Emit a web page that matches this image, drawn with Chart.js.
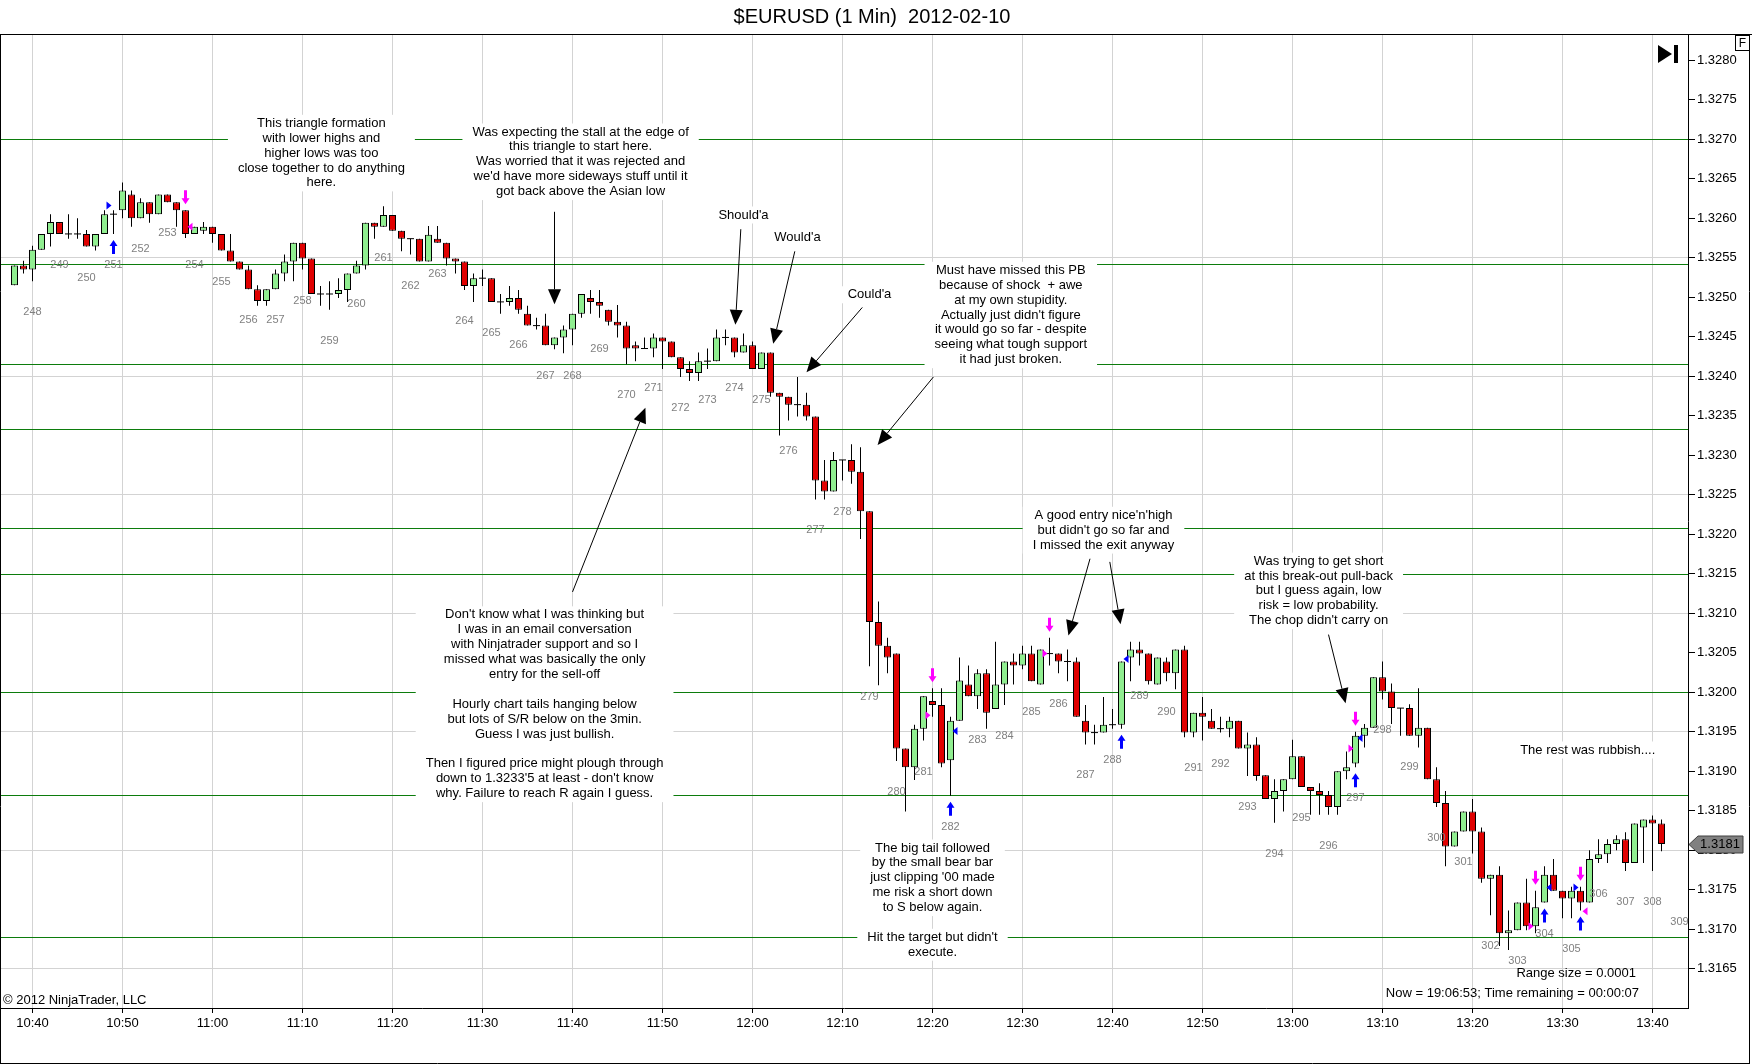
<!DOCTYPE html>
<html>
<head>
<meta charset="utf-8">
<title>$EURUSD (1 Min) 2012-02-10</title>
<script src="https://cdn.jsdelivr.net/npm/chart.js@4.4.1/dist/chart.umd.min.js"></script>
<style>
  html, body { margin: 0; padding: 0; background: #fff; overflow: hidden; }
  canvas { display: block; }
</style>
</head>
<body>
<canvas id="chart" width="1752" height="1064"></canvas>
<script>
// one-minute bars, 10:38 - 13:41
const times = [
  "10:38","10:39","10:40","10:41","10:42","10:43","10:44","10:45","10:46","10:47",
  "10:48","10:49","10:50","10:51","10:52","10:53","10:54","10:55","10:56","10:57",
  "10:58","10:59","11:00","11:01","11:02","11:03","11:04","11:05","11:06","11:07",
  "11:08","11:09","11:10","11:11","11:12","11:13","11:14","11:15","11:16","11:17",
  "11:18","11:19","11:20","11:21","11:22","11:23","11:24","11:25","11:26","11:27",
  "11:28","11:29","11:30","11:31","11:32","11:33","11:34","11:35","11:36","11:37",
  "11:38","11:39","11:40","11:41","11:42","11:43","11:44","11:45","11:46","11:47",
  "11:48","11:49","11:50","11:51","11:52","11:53","11:54","11:55","11:56","11:57",
  "11:58","11:59","12:00","12:01","12:02","12:03","12:04","12:05","12:06","12:07",
  "12:08","12:09","12:10","12:11","12:12","12:13","12:14","12:15","12:16","12:17",
  "12:18","12:19","12:20","12:21","12:22","12:23","12:24","12:25","12:26","12:27",
  "12:28","12:29","12:30","12:31","12:32","12:33","12:34","12:35","12:36","12:37",
  "12:38","12:39","12:40","12:41","12:42","12:43","12:44","12:45","12:46","12:47",
  "12:48","12:49","12:50","12:51","12:52","12:53","12:54","12:55","12:56","12:57",
  "12:58","12:59","13:00","13:01","13:02","13:03","13:04","13:05","13:06","13:07",
  "13:08","13:09","13:10","13:11","13:12","13:13","13:14","13:15","13:16","13:17",
  "13:18","13:19","13:20","13:21","13:22","13:23","13:24","13:25","13:26","13:27",
  "13:28","13:29","13:30","13:31","13:32","13:33","13:34","13:35","13:36","13:37",
  "13:38","13:39","13:40","13:41"
];

const opens = [
  1.32515,1.32540,1.32535,1.32560,1.32580,1.32595,1.32580,1.32580,1.32580,1.32564,
  1.32580,1.32605,1.32610,1.32630,1.32600,1.32620,1.32605,1.32630,1.32620,1.32610,
  1.32580,1.32584,1.32589,1.32580,1.32559,1.32545,1.32535,1.32510,1.32495,1.32510,
  1.32530,1.32545,1.32569,1.32549,1.32504,1.32504,1.32504,1.32509,1.32530,1.32540,
  1.32594,1.32589,1.32604,1.32584,1.32574,1.32574,1.32545,1.32574,1.32569,1.32549,
  1.32545,1.32514,1.32524,1.32524,1.32494,1.32494,1.32499,1.32479,1.32464,1.32464,
  1.32439,1.32449,1.32459,1.32479,1.32499,1.32494,1.32484,1.32469,1.32464,1.32439,
  1.32435,1.32435,1.32449,1.32444,1.32424,1.32409,1.32404,1.32419,1.32419,1.32449,
  1.32449,1.32430,1.32439,1.32409,1.32430,1.32379,1.32374,1.32364,1.32364,1.32349,
  1.32268,1.32254,1.32294,1.32294,1.32279,1.32229,1.32089,1.32059,1.32049,1.31929,
  1.31905,1.31954,1.31989,1.31984,1.31914,1.31964,1.32010,1.31995,1.32024,1.31979,
  1.32010,1.32039,1.32034,1.32049,1.32010,1.32049,1.32049,1.32039,1.32039,1.31964,
  1.31949,1.31949,1.31959,1.31959,1.32044,1.32054,1.32049,1.32010,1.32039,1.32024,
  1.32054,1.31949,1.31974,1.31964,1.31954,1.31954,1.31964,1.31929,1.31934,1.31895,
  1.31865,1.31875,1.31890,1.31919,1.31880,1.31875,1.31870,1.31855,1.31900,1.31910,
  1.31945,1.31955,1.32019,1.32001,1.31980,1.31980,1.31945,1.31955,1.31890,1.31860,
  1.31805,1.31824,1.31849,1.31824,1.31764,1.31769,1.31695,1.31699,1.31734,1.31704,
  1.31734,1.31769,1.31749,1.31739,1.31749,1.31734,1.31789,1.31795,1.31808,1.31814,
  1.31784,1.31829,1.31839,1.31834
];
const highs = [
  1.32540,1.32546,1.32565,1.32580,1.32605,1.32595,1.32605,1.32600,1.32585,1.32580,
  1.32610,1.32610,1.32645,1.32635,1.32625,1.32620,1.32630,1.32630,1.32620,1.32610,
  1.32589,1.32595,1.32589,1.32580,1.32580,1.32545,1.32540,1.32515,1.32510,1.32535,
  1.32554,1.32569,1.32569,1.32549,1.32514,1.32520,1.32524,1.32530,1.32546,1.32594,
  1.32594,1.32615,1.32604,1.32584,1.32574,1.32574,1.32590,1.32590,1.32569,1.32549,
  1.32545,1.32530,1.32535,1.32524,1.32504,1.32514,1.32509,1.32489,1.32474,1.32479,
  1.32449,1.32464,1.32479,1.32504,1.32509,1.32509,1.32484,1.32490,1.32469,1.32444,
  1.32449,1.32454,1.32449,1.32444,1.32424,1.32419,1.32430,1.32435,1.32459,1.32459,
  1.32449,1.32454,1.32444,1.32430,1.32430,1.32379,1.32374,1.32399,1.32379,1.32349,
  1.32294,1.32304,1.32294,1.32314,1.32310,1.32229,1.32115,1.32069,1.32049,1.31929,
  1.31959,1.31995,1.32005,1.32005,1.31969,1.32044,1.32034,1.32029,1.32029,1.32064,
  1.32039,1.32049,1.32059,1.32059,1.32054,1.32069,1.32049,1.32054,1.32044,1.31984,
  1.31959,1.31994,1.31979,1.32039,1.32064,1.32064,1.32049,1.32044,1.32044,1.32054,
  1.32059,1.31974,1.31994,1.31979,1.31969,1.31969,1.31964,1.31949,1.31943,1.31895,
  1.31890,1.31890,1.31940,1.31919,1.31880,1.31885,1.31875,1.31900,1.31925,1.31950,
  1.31960,1.32019,1.32039,1.32011,1.31980,1.31985,1.32005,1.31955,1.31905,1.31875,
  1.31824,1.31849,1.31865,1.31829,1.31769,1.31780,1.31724,1.31734,1.31764,1.31749,
  1.31780,1.31789,1.31749,1.31754,1.31754,1.31800,1.31814,1.31814,1.31819,1.31823,
  1.31834,1.31839,1.31844,1.31839
];
const lows = [
  1.32515,1.32530,1.32520,1.32560,1.32564,1.32580,1.32574,1.32574,1.32564,1.32559,
  1.32580,1.32580,1.32600,1.32589,1.32600,1.32594,1.32605,1.32620,1.32589,1.32575,
  1.32580,1.32580,1.32569,1.32559,1.32545,1.32535,1.32510,1.32489,1.32489,1.32510,
  1.32520,1.32520,1.32535,1.32504,1.32489,1.32484,1.32499,1.32494,1.32530,1.32535,
  1.32574,1.32589,1.32584,1.32558,1.32554,1.32545,1.32545,1.32569,1.32540,1.32530,
  1.32509,1.32494,1.32514,1.32494,1.32479,1.32489,1.32479,1.32464,1.32459,1.32439,
  1.32434,1.32429,1.32439,1.32474,1.32479,1.32474,1.32464,1.32449,1.32415,1.32419,
  1.32435,1.32424,1.32409,1.32424,1.32399,1.32394,1.32394,1.32409,1.32419,1.32439,
  1.32424,1.32430,1.32409,1.32409,1.32374,1.32325,1.32344,1.32349,1.32344,1.32244,
  1.32244,1.32254,1.32268,1.32264,1.32194,1.32033,1.32009,1.32024,1.31913,1.31849,
  1.31889,1.31939,1.31969,1.31905,1.31869,1.31964,1.31995,1.31979,1.31954,1.31979,
  1.31984,1.32010,1.32029,1.32014,1.32010,1.32034,1.32024,1.32014,1.31969,1.31934,
  1.31934,1.31949,1.31954,1.31954,1.32014,1.32034,1.32010,1.32010,1.32014,1.32004,
  1.31943,1.31943,1.31939,1.31954,1.31949,1.31943,1.31929,1.31894,1.31888,1.31865,
  1.31835,1.31849,1.31890,1.31880,1.31845,1.31845,1.31845,1.31845,1.31890,1.31905,
  1.31930,1.31955,1.31991,1.31960,1.31945,1.31945,1.31930,1.31890,1.31855,1.31780,
  1.31805,1.31824,1.31796,1.31759,1.31718,1.31679,1.31674,1.31699,1.31699,1.31695,
  1.31734,1.31749,1.31714,1.31714,1.31724,1.31734,1.31784,1.31784,1.31800,1.31774,
  1.31784,1.31784,1.31774,1.31799
];
const closes = [
  1.32540,1.32535,1.32560,1.32580,1.32595,1.32580,1.32580,1.32580,1.32564,1.32580,
  1.32605,1.32605,1.32635,1.32600,1.32620,1.32605,1.32630,1.32620,1.32610,1.32580,
  1.32589,1.32589,1.32580,1.32559,1.32545,1.32535,1.32510,1.32495,1.32510,1.32530,
  1.32545,1.32569,1.32549,1.32504,1.32504,1.32504,1.32509,1.32530,1.32540,1.32594,
  1.32589,1.32604,1.32584,1.32574,1.32574,1.32545,1.32579,1.32569,1.32549,1.32545,
  1.32514,1.32524,1.32524,1.32494,1.32494,1.32499,1.32484,1.32464,1.32464,1.32439,
  1.32449,1.32459,1.32479,1.32504,1.32494,1.32489,1.32469,1.32464,1.32435,1.32435,
  1.32435,1.32449,1.32444,1.32424,1.32409,1.32404,1.32419,1.32419,1.32449,1.32449,
  1.32430,1.32439,1.32409,1.32430,1.32379,1.32374,1.32364,1.32364,1.32349,1.32268,
  1.32254,1.32294,1.32294,1.32279,1.32229,1.32089,1.32059,1.32044,1.31929,1.31905,
  1.31954,1.31995,1.31984,1.31910,1.31964,1.32015,1.31995,1.32024,1.31974,1.32010,
  1.32039,1.32034,1.32049,1.32014,1.32054,1.32049,1.32039,1.32039,1.31969,1.31949,
  1.31949,1.31959,1.31959,1.32039,1.32054,1.32049,1.32014,1.32044,1.32024,1.32054,
  1.31949,1.31974,1.31969,1.31954,1.31954,1.31964,1.31929,1.31934,1.31894,1.31865,
  1.31875,1.31890,1.31919,1.31880,1.31875,1.31870,1.31855,1.31900,1.31905,1.31945,
  1.31955,1.32019,1.32001,1.31980,1.31980,1.31945,1.31955,1.31890,1.31860,1.31805,
  1.31824,1.31849,1.31824,1.31764,1.31769,1.31695,1.31699,1.31734,1.31704,1.31728,
  1.31769,1.31749,1.31739,1.31749,1.31734,1.31789,1.31795,1.31808,1.31814,1.31784,
  1.31834,1.31839,1.31834,1.31808
];

const xTickLabels = ["10:40","10:50","11:00","11:10","11:20","11:30","11:40","11:50","12:00","12:10",
  "12:20","12:30","12:40","12:50","13:00","13:10","13:20","13:30","13:40"];

// bar counter every third bar
const barNumbers = [248,249,250,251,252,253,254,255,256,257,258,259,260,261,262,263,264,265,266,267,
  268,269,270,271,272,273,274,275,276,277,278,279,280,281,282,283,284,285,286,287,288,289,290,291,
  292,293,294,295,296,297,298,299,300,301,302,303,304,305,306,307,308,309];
const barNumberTimes = ["10:40","10:43","10:46","10:49","10:52","10:55","10:58","11:01","11:04","11:07",
  "11:10","11:13","11:16","11:19","11:22","11:25","11:28","11:31","11:34","11:37","11:40","11:43",
  "11:46","11:49","11:52","11:55","11:58","12:01","12:04","12:07","12:10","12:13","12:16","12:19",
  "12:22","12:25","12:28","12:31","12:34","12:37","12:40","12:43","12:46","12:49","12:52","12:55",
  "12:58","13:01","13:04","13:07","13:10","13:13","13:16","13:19","13:22","13:25","13:28","13:31",
  "13:34","13:37","13:40","13:43"];
const pendingBarLow = 1.31748;

// S/R lines
const levels = [1.3270, 1.32542, 1.32416, 1.32333, 1.32208, 1.3215, 1.3200, 1.3187, 1.3169];

// executions
const entryTimes = ["10:49","12:22","12:41","13:07","13:28","13:32"];
const exitTimes = ["10:57","12:20","12:33","13:07","13:27","13:32"];
const blueMarks = [["10:49",1.32616,-1],["12:22",1.31951,1],["12:41",1.32042,1],["13:07",1.31942,1],["13:28",1.31753,1],["13:32",1.31753,-1]];
const pinkMarks = [["10:57",1.32589,1],["12:20",1.31971,-1],["12:33",1.32049,-1],["13:07",1.31929,-1],["13:27",1.31704,-1],["13:32",1.31723,1]];

const notes = [
  { at: ["11:12.1", 1.32720], text: ["This triangle formation","with lower highs and","higher lows was too","close together to do anything","here."] },
  { at: ["11:40.9", 1.32709], text: ["Was expecting the stall at the edge of","this triangle to start here.","Was worried that it was rejected and","we'd have more sideways stuff until it","got back above the Asian low"] },
  { at: ["11:59", 1.32604], text: ["Should'a"] },
  { at: ["12:05", 1.32576], text: ["Would'a"] },
  { at: ["12:13", 1.32503], text: ["Could'a"] },
  { at: ["12:28.7", 1.32534], text: ["Must have missed this PB","because of shock  + awe","at my own stupidity.","Actually just didn't figure","it would go so far - despite","seeing what tough support","it had just broken."] },
  { at: ["11:36.9", 1.32098], text: ["Don't know what I was thinking but","I was in an email conversation","with Ninjatrader support and so I","missed what was basically the only","entry for the sell-off","","Hourly chart tails hanging below","but lots of S/R below on the 3min.","Guess I was just bullish.","","Then I figured price might plough through","down to 1.3233'5 at least - don't know","why. Failure to reach R again I guess."] },
  { at: ["12:39", 1.32224], text: ["A good entry nice'n'high","but didn't go so far and","I missed the exit anyway"] },
  { at: ["13:02.9", 1.32166], text: ["Was trying to get short","at this break-out pull-back","but I guess again, low","risk = low probability.","The chop didn't carry on"] },
  { at: ["12:20", 1.31803], text: ["The big tail followed","by the small bear bar","just clipping '00 made","me risk a short down","to S below again."] },
  { at: ["12:20", 1.31690], text: ["Hit the target but didn't","execute."] },
  { at: ["13:32.8", 1.31927], text: ["The rest was rubbish...."] }
];

// [from time, from price, to time, to price]
const pointers = [
  ["11:38", 1.32608, "11:38", 1.32491],
  ["11:58.7", 1.32586, "11:58.1", 1.32465],
  ["12:04.7", 1.32558, "12:02.3", 1.32441],
  ["12:12.2", 1.32487, "12:06", 1.32405],
  ["12:20.1", 1.32399, "12:13.9", 1.32313],
  ["11:40", 1.32127, "11:48.1", 1.32360],
  ["12:37.5", 1.32169, "12:35.1", 1.32072],
  ["12:39.7", 1.32165, "12:40.9", 1.32086],
  ["13:04", 1.32073, "13:05.9", 1.31986]
];

const FONT = '"Liberation Sans", Arial, sans-serif';

function toMin(t) {
  const parts = t.split(":");
  return Number(parts[0]) * 60 + parseFloat(parts[1]);
}

function arrow(c, x1, y1, x2, y2) {
  const ang = Math.atan2(y2 - y1, x2 - x1);
  const L = 15, W = 6.5;
  const bx = x2 - L * Math.cos(ang), by = y2 - L * Math.sin(ang);
  c.beginPath(); c.moveTo(x1, y1); c.lineTo(bx, by); c.stroke();
  c.beginPath();
  c.moveTo(x2, y2);
  c.lineTo(bx + W * Math.sin(ang), by - W * Math.cos(ang));
  c.lineTo(bx - W * Math.sin(ang), by + W * Math.cos(ang));
  c.closePath(); c.fill();
}

// dir -1: points up (tip on top), dir 1: points down
function bigArrow(c, cx, tipY, dir) {
  const head = 6, len = 14, hw = 4, sw = 1.5;
  c.beginPath();
  c.moveTo(cx, tipY);
  c.lineTo(cx + hw, tipY - dir * head);
  c.lineTo(cx + sw, tipY - dir * head);
  c.lineTo(cx + sw, tipY - dir * len);
  c.lineTo(cx - sw, tipY - dir * len);
  c.lineTo(cx - sw, tipY - dir * head);
  c.lineTo(cx - hw, tipY - dir * head);
  c.closePath(); c.fill();
}

function tri(c, cx, cy, side) {
  const tip = cx + side * 2, base = cx + side * 7;
  c.beginPath(); c.moveTo(tip, cy); c.lineTo(base, cy - 4); c.lineTo(base, cy + 4); c.closePath(); c.fill();
}

const overlay = {
  id: "overlay",
  beforeDraw(chart) {
    const c = chart.ctx;
    c.save();
    c.fillStyle = "#fff";
    c.fillRect(0, 0, chart.width, chart.height);
    c.restore();
  },
  beforeDatasetsDraw(chart) {
    const { ctx: c, chartArea: a, scales: { x, y } } = chart;
    c.save();
    c.strokeStyle = "#0c7c0c";
    c.lineWidth = 1;
    levels.forEach(v => {
      const yy = Math.round(y.getPixelForValue(v)) + 0.5;
      c.beginPath(); c.moveTo(a.left, yy); c.lineTo(a.right, yy); c.stroke();
    });
    c.font = "13px " + FONT;
    c.textAlign = "center";
    c.textBaseline = "middle";
    notes.forEach(n => {
      const cx = x.getPixelForValue(toMin(n.at[0]));
      const top = y.getPixelForValue(n.at[1]);
      const w = Math.max(...n.text.map(s => c.measureText(s).width)) + 20;
      c.fillStyle = "#fff";
      c.fillRect(cx - w / 2, top - 8.5, w, (n.text.length - 1) * 14.9 + 17);
      c.fillStyle = "#000";
      n.text.forEach((s, i) => c.fillText(s, cx, top + i * 14.9));
    });
    c.restore();
  },
  afterDatasetsDraw(chart) {
    const { ctx: c, scales: { x, y } } = chart;
    const px = t => x.getPixelForValue(toMin(t));
    const py = v => y.getPixelForValue(v);
    const idx = t => times.indexOf(t);
    c.save();
    c.font = "11px " + FONT;
    c.fillStyle = "#808080";
    c.textAlign = "center";
    c.textBaseline = "middle";
    barNumbers.forEach((n, k) => {
      const t = barNumberTimes[k], i = idx(t);
      const low = i >= 0 ? lows[i] : pendingBarLow;
      c.fillText(String(n), px(t), py(low) + 31);
    });

    c.fillStyle = "#0000ff";
    entryTimes.forEach(t => bigArrow(c, px(t), py(lows[idx(t)]) + 6, -1));
    blueMarks.forEach(m => tri(c, px(m[0]), py(m[1]), m[2]));
    c.fillStyle = "#ff00ff";
    exitTimes.forEach(t => bigArrow(c, px(t), py(highs[idx(t)]) - 6, 1));
    pinkMarks.forEach(m => tri(c, px(m[0]), py(m[1]), m[2]));

    c.strokeStyle = "#000";
    c.fillStyle = "#000";
    c.lineWidth = 1;
    pointers.forEach(p => arrow(c, px(p[0]), py(p[1]), px(p[2]), py(p[3])));
    c.restore();
  },
  afterDraw(chart) {
    const { ctx: c, chartArea: a, scales: { y } } = chart;
    c.save();
    // title
    c.fillStyle = "#000";
    c.font = "20px " + FONT;
    c.textAlign = "center";
    c.textBaseline = "middle";
    c.fillText("$EURUSD (1 Min)  2012-02-10", 872, 17);

    // frame
    c.strokeStyle = "#000";
    c.lineWidth = 1;
    c.beginPath();
    c.moveTo(0, 34.5); c.lineTo(1752, 34.5);
    c.moveTo(0.5, 34); c.lineTo(0.5, 1064);
    c.moveTo(1749.5, 34); c.lineTo(1749.5, 1064);
    c.moveTo(0, 1063.5); c.lineTo(1750, 1063.5);
    c.stroke();

    // F box and scroll-to-end icon
    c.strokeRect(1735.5, 35.5, 14, 15);
    c.font = "12px " + FONT;
    c.fillText("F", 1742.5, 43.5);
    c.beginPath(); c.moveTo(1658, 45); c.lineTo(1658, 63); c.lineTo(1672, 54); c.closePath(); c.fill();
    c.fillRect(1674, 45, 4, 18);

    // last price flag
    const last = closes[closes.length - 1];
    const fy = Math.round(y.getPixelForValue(last)) + 0.5;
    const fx = a.right + 1;
    c.beginPath();
    c.moveTo(fx, fy);
    c.lineTo(fx + 9, fy - 8.5);
    c.lineTo(1743, fy - 8.5);
    c.lineTo(1743, fy + 8.5);
    c.lineTo(fx + 9, fy + 8.5);
    c.closePath();
    c.fillStyle = "#808080";
    c.fill();
    c.strokeStyle = "#404040";
    c.stroke();
    c.fillStyle = "#000";
    c.font = "13px " + FONT;
    c.fillText(last.toFixed(4), 1720, fy);

    // footer texts
    c.textAlign = "left";
    c.fillText("\u00a9 2012 NinjaTrader, LLC", 3, 1000);
    c.textAlign = "right";
    c.fillText("Range size = 0.0001", 1636, 973);
    c.fillText("Now = 19:06:53; Time remaining = 00:00:07", 1639, 993);
    c.restore();
  }
};

Chart.defaults.font.family = FONT;
Chart.defaults.font.size = 13;
Chart.defaults.color = "#000";

new Chart(document.getElementById("chart").getContext("2d"), {
  type: "bar",
  data: {
    datasets: [
      {
        label: "wick",
        data: times.map((t, i) => ({ x: toMin(t), y: [lows[i], highs[i]] })),
        backgroundColor: "#000",
        maxBarThickness: 1,
        grouped: false,
        inflateAmount: 0,
        order: 3
      },
      {
        label: "body",
        data: times.map((t, i) => ({ x: toMin(t), y: [opens[i], closes[i]] })),
        backgroundColor: times.map((t, i) => closes[i] >= opens[i] ? "#90ee90" : "#e00000"),
        borderColor: "#000",
        borderWidth: 1,
        borderSkipped: false,
        maxBarThickness: 7,
        grouped: false,
        inflateAmount: 0,
        order: 2
      },
      {
        label: "doji",
        type: "line",
        showLine: false,
        data: times.map((t, i) => ({ x: toMin(t), y: opens[i] })).filter((p, i) => opens[i] === closes[i]),
        pointStyle: "line",
        pointRadius: 3.5,
        borderColor: "#000",
        borderWidth: 1,
        order: 1
      }
    ]
  },
  options: {
    responsive: false,
    animation: false,
    devicePixelRatio: 1,
    events: [],
    barPercentage: 1,
    categoryPercentage: 1,
    layout: { autoPadding: false, padding: { top: 34, left: 0, right: 3, bottom: 1 } },
    plugins: { legend: { display: false }, tooltip: { enabled: false }, title: { display: false } },
    scales: {
      x: {
        type: "linear",
        offset: false,
        min: 640 - 32.5 / 9,
        max: 640 + (1688 - 32.5) / 9,
        grid: { offset: false, color: "#d3d3d3", tickColor: "#000", tickLength: 5 },
        border: { color: "#000" },
        ticks: {
          stepSize: 10,
          includeBounds: false,
          autoSkip: false,
          maxRotation: 0,
          padding: 3,
          font: { size: 13 },
          callback: (v, i) => xTickLabels[i]
        },
        afterBuildTicks: s => { s.ticks = xTickLabels.map(t => ({ value: toMin(t) })); },
        afterFit: s => { s.height = 55; s.paddingLeft = 0; s.paddingRight = 0; }
      },
      y: {
        type: "linear",
        position: "right",
        beginAtZero: false,
        min: 1.316005,
        max: 1.32833,
        grid: {
          color: ctx => ctx.tick && Math.round(ctx.tick.value * 1e4) % 15 === 10 ? "#d3d3d3" : "rgba(0,0,0,0)",
          tickColor: "#000",
          tickLength: 7
        },
        border: { color: "#000" },
        ticks: {
          stepSize: 0.0005,
          includeBounds: false,
          autoSkip: false,
          padding: 2,
          font: { size: 13 },
          callback: v => Number(v).toFixed(4)
        },
        afterFit: s => { s.width = 61; s.paddingTop = 0; s.paddingBottom = 0; }
      }
    }
  },
  plugins: [overlay]
});
</script>
</body>
</html>
